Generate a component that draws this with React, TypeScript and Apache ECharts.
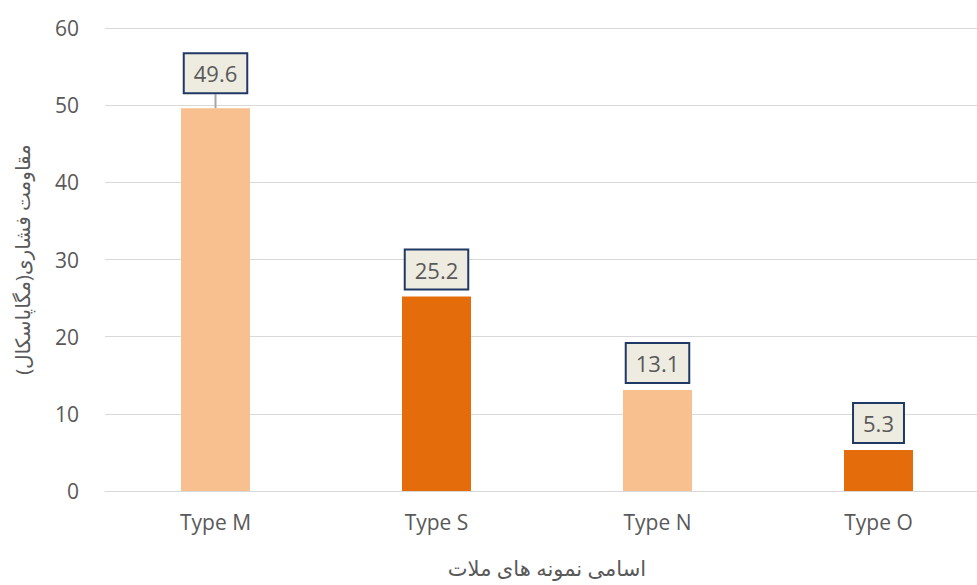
import React, { useEffect, useRef } from "react";
import * as echarts from "echarts";

const categories = ["Type M", "Type S", "Type N", "Type O"];
const values = [49.6, 25.2, 13.1, 5.3];
const barColors = ["#F9C08F", "#E46C0A", "#F9C08F", "#E46C0A"];
const yTicks = { min: 0, max: 60, interval: 10 };
const xTitle = "اسامی نمونه های ملات";
const yTitle = "مقاومت فشاری(مگاپاسکال)";

const FONT = "'Open Sans', 'DejaVu Sans', 'Noto Sans', sans-serif";

export default function App() {
  const ref = useRef<HTMLDivElement>(null);
  useEffect(() => {
    const chart = echarts.init(ref.current!, null, { renderer: "svg" });
    chart.setOption({
      animation: false,
      textStyle: { fontFamily: FONT },
      grid: {
        left: 105,
        right: -12,
        top: 28,
        bottom: 94,
        containLabel: false,
        outerBoundsMode: "none",
      },
      xAxis: {
        type: "category",
        data: categories,
        name: xTitle,
        nameLocation: "middle",
        nameGap: 66,
        nameTextStyle: { fontSize: 21, color: "#595959", fontFamily: FONT },
        axisLine: { show: true, lineStyle: { color: "#D9D9D9", width: 1 } },
        axisTick: { show: false },
        axisLabel: { fontSize: 21, color: "#595959", margin: 20, fontFamily: FONT },
      },
      yAxis: {
        type: "value",
        min: yTicks.min,
        max: yTicks.max,
        interval: yTicks.interval,
        name: yTitle,
        nameLocation: "middle",
        nameGap: 73,
        nameRotate: 90,
        nameTextStyle: { fontSize: 20, color: "#595959", fontFamily: FONT },
        axisLine: { show: false },
        axisTick: { show: false },
        axisLabel: { fontSize: 21, color: "#595959", margin: 26, fontFamily: FONT },
        splitLine: { lineStyle: { color: "#D9D9D9", width: 1 } },
      },
      series: [
        {
          type: "bar",
          barWidth: 69,
          data: values.map((v, i) => ({
            value: v,
            itemStyle: { color: barColors[i] },
            labelLine: i === 0 ? { show: true, lineStyle: { color: "#A6A6A6", width: 2 } } : undefined,
          })),
          label: {
            show: true,
            position: "top",
            distance: 8,
            fontSize: 22,
            color: "#595959",
            fontFamily: FONT,
            backgroundColor: "#EEECE1",
            borderColor: "#1F3864",
            borderWidth: 2,
            padding: [8, 9, 8, 9],
          },
          labelLayout: (p: any) => (p.dataIndex === 0 ? { dy: -8 } : {}),
        },
      ],
    });
    return () => chart.dispose();
  }, []);
  return (
    <div
      ref={ref}
      style={{ position: "fixed", left: 0, top: 0, width: 977, height: 585, background: "#fff" }}
    />
  );
}
